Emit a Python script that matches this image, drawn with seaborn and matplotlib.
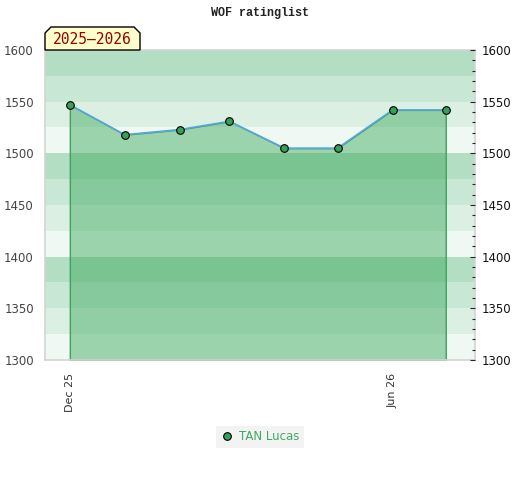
import matplotlib
matplotlib.use("Agg")
import matplotlib.pyplot as plt
import matplotlib.dates as mdates
from matplotlib.patches import Polygon
from matplotlib.lines import Line2D
from matplotlib.ticker import MultipleLocator
import pandas as pd
import seaborn as sns

# Datos de la lista de rating
months = ["2025-12-01", "2026-01-01", "2026-02-01", "2026-03-01",
          "2026-04-01", "2026-05-01", "2026-06-01", "2026-07-01"]
ratings = [1547, 1518, 1523, 1531, 1505, 1505, 1542, 1542]
player = "TAN Lucas"
season = "2025\u20132026"
y_min, y_max = 1300, 1600

df = pd.DataFrame({"date": pd.to_datetime(months), "rating": ratings})

sns.set_style("white")
plt.rcParams["font.family"] = ["DejaVu Sans"]

fig = plt.figure(figsize=(5.2, 4.8), dpi=100)
ax = fig.add_axes([45 / 520, 1 - 360 / 480, 430 / 520, 310 / 480])

# Bandas de fondo
band_colors = ["#b3dec4", "#c9e7d5", "#dcefe3", "#eff8f2"]
edges = list(range(y_max, y_min, -25))
for i, top in enumerate(edges):
    ax.axhspan(top - 25, top, color=band_colors[i % 4], lw=0, zorder=0)

# Área bajo la curva
ax.fill_between(df["date"], df["rating"], y_min, facecolor=(0.21, 0.65, 0.34, 0.45),
                edgecolor="#3aa35c", linewidth=1, zorder=1)
sns.lineplot(data=df, x="date", y="rating", ax=ax, color="#5aa5e0", lw=1.2,
             marker="o", markersize=5.5, markerfacecolor="#36a05a",
             markeredgecolor="black", markeredgewidth=0.8, zorder=3)

x0 = pd.Timestamp("2025-12-01") - pd.Timedelta(days=14)
x1 = pd.Timestamp("2026-07-01") + pd.Timedelta(days=16.5)
ax.set_xlim(x0, x1)
ax.set_ylim(y_min, y_max)
ax.set_xlabel("")
ax.set_ylabel("")

ax.xaxis.set_major_locator(mdates.MonthLocator(bymonth=[6, 12]))
ax.xaxis.set_major_formatter(mdates.DateFormatter("%b %y"))
ax.tick_params(axis="x", length=0, pad=9, labelsize=8, labelcolor="#333333", rotation=90)
ax.yaxis.set_major_locator(MultipleLocator(50))
ax.tick_params(axis="y", length=0, pad=8, labelsize=8.5, labelcolor="#444444")

for s in ax.spines.values():
    s.set_color("#d4d4d4")
    s.set_linewidth(1.2)

# Eje derecho
ax2 = ax.twinx()
ax2.set_ylim(y_min, y_max)
ax2.yaxis.set_major_locator(MultipleLocator(50))
ax2.yaxis.set_minor_locator(MultipleLocator(10))
ax2.tick_params(axis="y", which="major", direction="in", length=3.5, width=0.8,
                pad=5, labelsize=8.5, labelcolor="#111111")
ax2.tick_params(axis="y", which="minor", direction="in", length=2, width=0.8)
for s in ax2.spines.values():
    s.set_visible(False)

# Título
fig.text(260 / 520, 1 - 13 / 480, "WOF ratinglist", ha="center", va="center",
         fontsize=8.5, fontweight="bold", family="Liberation Mono", color="#222222")

# Etiqueta de temporada
pts = [(45, 50), (45, 33), (51, 27), (134, 27), (140, 33), (140, 50)]
poly = Polygon([(x / 520, 1 - y / 480) for x, y in pts], closed=True,
               transform=fig.transFigure, facecolor="#ffffcc", edgecolor="black",
               linewidth=1, zorder=5)
fig.add_artist(poly)
fig.text(92 / 520, 1 - 40 / 480, season, ha="center", va="center", fontsize=10.5,
         family="DejaVu Sans Mono", color="#990000", zorder=6)

# Leyenda
handle = Line2D([], [], marker="o", linestyle="", markersize=5.5,
                markerfacecolor="#36a05a", markeredgecolor="black", markeredgewidth=0.8)
leg = fig.legend([handle], [player], loc="center", bbox_to_anchor=(260 / 520, 1 - 437 / 480),
                 frameon=True, fancybox=False, fontsize=8.5, handletextpad=0.5,
                 handlelength=1.0, borderpad=0.4)
leg.get_frame().set_facecolor("#f0f0f0")
leg.get_frame().set_edgecolor("none")
for t in leg.get_texts():
    t.set_color("#3daa64")

fig.savefig("out.png", dpi=100)
